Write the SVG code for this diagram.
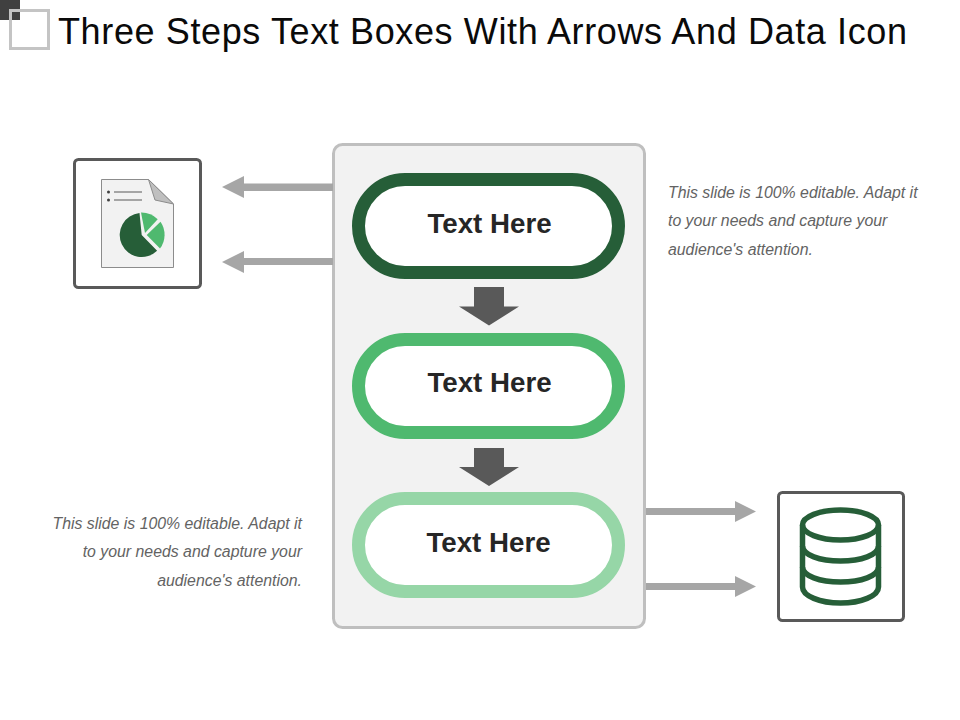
<svg xmlns="http://www.w3.org/2000/svg" width="960" height="720" viewBox="0 0 960 720">
<style>
.title{font-family:"Liberation Sans",Arial,sans-serif;font-size:36px;fill:#0a0a0a}
.pill{fill:#fff;stroke-width:13}
.pt{font-family:"Liberation Sans",Arial,sans-serif;font-size:27.700px;font-weight:bold;fill:#262626;text-anchor:middle}
.note{font-family:"Liberation Sans",Arial,sans-serif;font-size:15.850px;font-style:italic;fill:#636363}
.r{text-anchor:end}
.box{fill:#fff;stroke:#595959;stroke-width:3}
.db{fill:none;stroke:#265e38;stroke-width:5.500}
</style>
<rect width="960" height="720" fill="#fff"/>
<g id="corner">
<rect x="0" y="0" width="20" height="20" fill="#404040"/>
<rect x="10.500" y="10.500" width="38" height="38" fill="none" stroke="#c4c4c4" stroke-width="3"/>
</g>
<text class="title" x="58" y="44" textLength="849" lengthAdjust="spacing">Three Steps Text Boxes With Arrows And Data Icon</text>
<g id="panel"><rect x="333.500" y="144.500" width="311" height="483" rx="9" fill="#f2f2f2" stroke="#bfbfbf" stroke-width="3"/></g>
<g id="connectors">
<g fill="#a6a6a6">
<path d="M333 183.500V191H244V198L222 187 244 176V183.500Z"/>
<path d="M333 258V265H244V273L222 262 244 251V258Z"/>
<path d="M646 508V515H735V522L756 511.500 735 501V508Z"/>
<path d="M646 583V590H735V597L756 586.500 735 576V583Z"/>
</g>
<g fill="#595959">
<path d="M474 287H504V306.500H519L489 325.500 459 306.500H474Z"/>
<path d="M474 448H504V467H519L489 486 459 467H474Z"/>
</g>
</g>
<g id="step1"><rect class="pill" x="358.500" y="179.500" width="260" height="93" rx="46.500" stroke="#265e38"/><text class="pt" x="489.500" y="233">Text Here</text></g>
<g id="step2"><rect class="pill" x="358.500" y="339.500" width="260" height="93" rx="46.500" stroke="#4fb96f"/><text class="pt" x="489.500" y="392">Text Here</text></g>
<g id="step3"><rect class="pill" x="358.500" y="498.500" width="260" height="93" rx="46.500" stroke="#96d6a7"/><text class="pt" x="488.500" y="552">Text Here</text></g>
<g id="doc-node">
<rect class="box" x="74.500" y="159.500" width="126" height="128" rx="4"/>
<path d="M101.500 179.500H148.500L173.500 204V267.500H101.500Z" fill="#f2f2f2" stroke="#8c8c8c"/>
<path d="M148.500 179.500L173.500 204 155 200Z" fill="#bfbfbf" stroke="#8c8c8c"/>
<circle cx="108.500" cy="192" r="1.500" fill="#404040"/><circle cx="108.500" cy="200" r="1.500" fill="#404040"/>
<path d="M114 192H142M114 200H142" stroke="#595959" stroke-width="1.200"/>
<path d="M139.500 213.100A22 22 0 1 0 157.100 250.700L141.700 235Z" fill="#265e38"/>
<path d="M141 212.500A23 23 0 0 1 157.700 219.200L145 233Z" fill="#4fb96f"/>
<path d="M160.500 221.700A23 23 0 0 1 160 248.500L146.700 235Z" fill="#4fb96f"/>
</g>
<g id="db-node">
<rect class="box" x="778.500" y="492.500" width="125" height="128" rx="4"/>
<ellipse class="db" cx="840.500" cy="525" rx="38" ry="15"/>
<path class="db" d="M802.500 525V587C802.500 596 820 603 840.500 603S878.500 596 878.500 587V525"/>
<path class="db" d="M802.500 546C802.500 555 820 561 840.500 561S878.500 555 878.500 546"/>
<path class="db" d="M802.500 567C802.500 576 820 582 840.500 582S878.500 576 878.500 567"/>
</g>
<g id="note-right">
<text class="note" x="668" y="198">This slide is 100% editable. Adapt it</text>
<text class="note" x="668" y="226">to your needs and capture your</text>
<text class="note" x="668" y="255">audience's attention.</text>
</g>
<g id="note-left">
<text class="note r" x="302" y="529">This slide is 100% editable. Adapt it</text>
<text class="note r" x="302" y="557">to your needs and capture your</text>
<text class="note r" x="302" y="586">audience's attention.</text>
</g>
</svg>
